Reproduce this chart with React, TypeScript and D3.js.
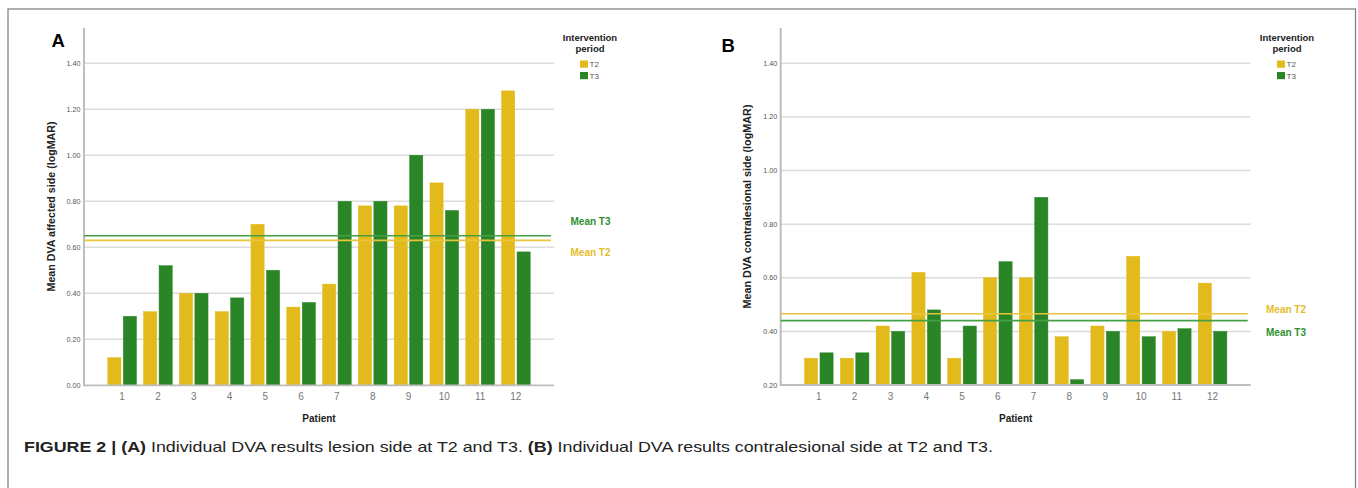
import React from "react";
import * as d3 from "d3";

// ---------- data ----------
const patients = ["1", "2", "3", "4", "5", "6", "7", "8", "9", "10", "11", "12"];
const seriesNames = ["T2", "T3"];

const affectedT2 = [0.12, 0.32, 0.4, 0.32, 0.7, 0.34, 0.44, 0.78, 0.78, 0.88, 1.2, 1.28];
const affectedT3 = [0.3, 0.52, 0.4, 0.38, 0.5, 0.36, 0.8, 0.8, 1.0, 0.76, 1.2, 0.58];
const affectedMeanT2 = 0.63;
const affectedMeanT3 = 0.65;

const contraT2 = [0.3, 0.3, 0.42, 0.62, 0.3, 0.6, 0.6, 0.38, 0.42, 0.68, 0.4, 0.58];
const contraT3 = [0.32, 0.32, 0.4, 0.48, 0.42, 0.66, 0.9, 0.22, 0.4, 0.38, 0.41, 0.4];
const contraMeanT2 = 0.466;
const contraMeanT3 = 0.44;

const ticksA = [0, 0.2, 0.4, 0.6, 0.8, 1.0, 1.2, 1.4];
const ticksB = [0.2, 0.4, 0.6, 0.8, 1.0, 1.2, 1.4];

const yTitleA = "Mean DVA affected side (logMAR)";
const yTitleB = "Mean DVA contralesional side (logMAR)";
const xTitle = "Patient";
const legendTitle1 = "Intervention";
const legendTitle2 = "period";

// ---------- style ----------
const YELLOW = "#E2BA1C";
const GREEN = "#2A8527";
const MEAN_YELLOW = "#E8C43C";
const MEAN_GREEN = "#45A045";
const LABEL_YELLOW = "#E6BC2A";
const LABEL_GREEN = "#2F8F2F";
const GRID = "#DCDCDC";
const AXIS = "#BDBDBD";
const FONT = "'Liberation Sans', Arial, sans-serif";

type PanelProps = {
  letter: string;
  letterX: number;
  letterY: number;
  x0: number;
  x1: number;
  yTop: number;
  domain: [number, number];
  rangeAt: [number, number];
  ticks: number[];
  t2: number[];
  t3: number[];
  meanT2: number;
  meanT3: number;
  yTitle: string;
  yTitleX: number;
  yTitleLen: number;
  legendX: number;
  meanLabelX: number;
  meanT2LabelY: number;
  meanT3LabelY: number;
};

function Panel(p: PanelProps) {
  const y = d3.scaleLinear().domain(p.domain).range(p.rangeAt);
  const x = d3
    .scaleBand<string>()
    .domain(patients)
    .range([p.x0, p.x1])
    .paddingInner(0.2)
    .paddingOuter(0.665);
  const xi = d3
    .scaleBand<string>()
    .domain(seriesNames)
    .range([0, x.bandwidth()])
    .paddingInner(0.15)
    .paddingOuter(0);
  const color = d3.scaleOrdinal<string, string>().domain(seriesNames).range([YELLOW, GREEN]);
  const base = y(p.domain[0]);
  const gridEnd = p.x1;
  const meanEnd = p.x1 - 3;
  const rows = patients.map((pt, i) => ({ pt, vals: [p.t2[i], p.t3[i]] }));
  const titleCenterY = 206.5;

  return (
    <g>
      <text x={p.letterX} y={p.letterY} fontFamily={FONT} fontWeight="bold" fontSize={18.5} fill="#000">
        {p.letter}
      </text>
      {/* grid */}
      {p.ticks.map((t) => (
        <g key={t}>
          {t !== p.domain[0] && (
            <line x1={p.x0} x2={gridEnd} y1={y(t)} y2={y(t)} stroke={GRID} strokeWidth={1.5} />
          )}
          <text
            x={p.x0 - 3.5}
            y={y(t)}
            dy="0.35em"
            textAnchor="end"
            fontFamily={FONT}
            fontSize={7.2}
            fill="#555"
          >
            {d3.format(".2f")(t)}
          </text>
        </g>
      ))}
      {/* bars */}
      {rows.map((r) =>
        r.vals.map((v, k) => {
          const s = seriesNames[k];
          const bx = (x(r.pt) as number) + (xi(s) as number);
          return (
            <rect
              key={r.pt + s}
              x={bx}
              y={y(v)}
              width={xi.bandwidth()}
              height={base - y(v)}
              fill={color(s)}
              stroke={color(s)}
              strokeWidth={0.5}
            />
          );
        })
      )}
      {/* axes */}
      <line x1={p.x0} x2={p.x0} y1={p.yTop} y2={base + 1} stroke={AXIS} strokeWidth={2} />
      <line x1={p.x0} x2={gridEnd} y1={base} y2={base} stroke={AXIS} strokeWidth={1.8} />
      {patients.map((pt) => (
        <text
          key={pt}
          x={(x(pt) as number) + x.bandwidth() / 2}
          y={base + 11.5}
          dy="0.35em"
          textAnchor="middle"
          fontFamily={FONT}
          fontSize={10}
          fill="#777"
        >
          {pt}
        </text>
      ))}
      {/* mean lines */}
      <line x1={p.x0} x2={meanEnd} y1={y(p.meanT3)} y2={y(p.meanT3)} stroke={MEAN_GREEN} strokeWidth={1.6} />
      <line x1={p.x0} x2={meanEnd} y1={y(p.meanT2)} y2={y(p.meanT2)} stroke={MEAN_YELLOW} strokeWidth={1.6} />
      <text x={p.meanLabelX} y={p.meanT3LabelY} dy="0.35em" fontFamily={FONT} fontWeight="bold" fontSize={10} fill={LABEL_GREEN}>
        Mean T3
      </text>
      <text x={p.meanLabelX} y={p.meanT2LabelY} dy="0.35em" fontFamily={FONT} fontWeight="bold" fontSize={10} fill={LABEL_YELLOW}>
        Mean T2
      </text>
      {/* titles */}
      <text
        x={(p.x0 + p.x1) / 2}
        y={418.5}
        dy="0.35em"
        textAnchor="middle"
        fontFamily={FONT}
        fontWeight="bold"
        fontSize={10}
        fill="#222"
      >
        {xTitle}
      </text>
      <text
        transform={`translate(${p.yTitleX},${titleCenterY}) rotate(-90)`}
        dy="0.35em"
        textAnchor="middle"
        fontFamily={FONT}
        fontWeight="bold"
        fontSize={10}
        fill="#222"
        textLength={p.yTitleLen}
        lengthAdjust="spacingAndGlyphs"
      >
        {p.yTitle}
      </text>
      {/* legend */}
      <text x={p.legendX} y={37.7} dy="0.35em" textAnchor="middle" fontFamily={FONT} fontWeight="bold" fontSize={9.5} fill="#222">
        {legendTitle1}
      </text>
      <text x={p.legendX} y={48.5} dy="0.35em" textAnchor="middle" fontFamily={FONT} fontWeight="bold" fontSize={9.5} fill="#222">
        {legendTitle2}
      </text>
      {seriesNames.map((s, k) => (
        <g key={s}>
          <rect x={p.legendX - 10} y={60.5 + k * 11.5} width={8} height={7.2} fill={color(s)} />
          <text x={p.legendX - 0.5} y={64.2 + k * 11.5} dy="0.35em" fontFamily={FONT} fontSize={8} fill="#555">
            {s}
          </text>
        </g>
      ))}
    </g>
  );
}

export default function App() {
  return (
    <svg
      width={1358}
      height={488}
      style={{ position: "absolute", left: 0, top: 0, background: "#fff" }}
    >
      <rect x={0} y={0} width={1358} height={488} fill="#fff" />
      <rect x={8} y={9} width={1347.5} height={500} fill="none" stroke="#858585" strokeWidth={1.3} />
      <Panel
        letter="A"
        letterX={51.5}
        letterY={46.5}
        x0={84}
        x1={554}
        yTop={28}
        domain={[0, 1.4]}
        rangeAt={[385.3, 63.3]}
        ticks={ticksA}
        t2={affectedT2}
        t3={affectedT3}
        meanT2={affectedMeanT2}
        meanT3={affectedMeanT3}
        yTitle={yTitleA}
        yTitleX={51}
        yTitleLen={170}
        legendX={590}
        meanLabelX={570.5}
        meanT2LabelY={252.7}
        meanT3LabelY={221.7}
      />
      <Panel
        letter="B"
        letterX={721.5}
        letterY={51.5}
        x0={780.7}
        x1={1250.7}
        yTop={28}
        domain={[0.2, 1.4]}
        rangeAt={[385, 63.3]}
        ticks={ticksB}
        t2={contraT2}
        t3={contraT3}
        meanT2={contraMeanT2}
        meanT3={contraMeanT3}
        yTitle={yTitleB}
        yTitleX={747}
        yTitleLen={204}
        legendX={1287}
        meanLabelX={1266}
        meanT2LabelY={309}
        meanT3LabelY={332.3}
      />
      <text x={24} y={451.5} fontFamily={FONT} fontSize={14.5} fill="#222" textLength={969} lengthAdjust="spacingAndGlyphs">
        <tspan fontWeight="bold">FIGURE 2 | (A)</tspan>
        <tspan> Individual DVA results lesion side at T2 and T3. </tspan>
        <tspan fontWeight="bold">(B)</tspan>
        <tspan> Individual DVA results contralesional side at T2 and T3.</tspan>
      </text>
    </svg>
  );
}
